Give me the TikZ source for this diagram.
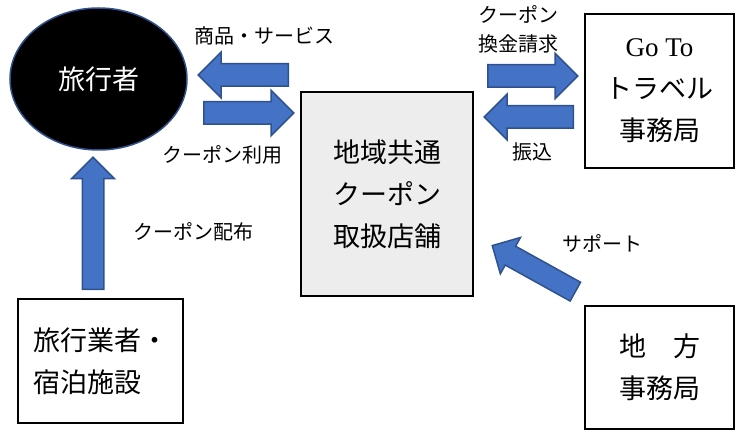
\documentclass[tikz,border=0pt]{standalone}
\usepackage{fontspec}
\setmainfont{Liberation Serif}
\newfontfamily\cjk{Noto Sans CJK JP}
\usetikzlibrary{shapes.geometric,shapes.arrows,positioning}
\definecolor{arrowblue}{HTML}{4472C4}
\definecolor{edgeblue}{HTML}{2F528F}
\definecolor{shopgrey}{HTML}{EDEDED}
\tikzset{
    box/.style={draw, line width=1.2pt, inner sep=0pt, align=center, font=\cjk\fontsize{27}{42}\selectfont},
    fatarrow/.style={single arrow, fill=arrowblue, draw=edgeblue, line width=1.5pt, inner sep=10.5pt, single arrow head extend=11.5pt, anchor=tail},
    tag/.style={font=\cjk\fontsize{20}{29}\selectfont, align=center, inner sep=0pt}
}
\begin{document}
\begin{tikzpicture}[x=1pt, y=-1pt]
    \useasboundingbox (0,0) rectangle (735,430);
    % actors
    \node[ellipse, fill=black, draw=edgeblue, line width=1.5pt, minimum width=177pt, minimum height=142pt, inner sep=0pt, text=white, font=\cjk\fontsize{27}{42}\selectfont] (traveler) at (98.5,79) {旅行者};
    \node[box, fill=shopgrey, minimum width=172pt, minimum height=204pt] (shop) at (387,194) {地域共通\\クーポン\\取扱店舗};
    \node[box, minimum width=149pt, minimum height=154pt] (goto) at (659.5,91) {{\rmfamily Go To}\\トラベル\\事務局};
    \node[box, align=left, minimum width=165pt, minimum height=124pt] (agency) at (100.5,361) {旅行業者・\\宿泊施設};
    \node[box, minimum width=149pt, minimum height=123pt] (local) at (659.5,367.5) {地　方\\事務局};

    % block arrows, placed by their tails
    \node[fatarrow, minimum height=90pt, shape border rotate=180] (goods) at (289,75) {};
    \node[fatarrow, minimum height=90pt] (use) at (203,113) {};
    \node[fatarrow, minimum height=90pt] (claim) at (487,76) {};
    \node[fatarrow, minimum height=89pt, shape border rotate=180] (pay) at (574,117) {};
    \node[fatarrow, minimum height=132pt, inner sep=10pt, single arrow head extend=10.5pt, shape border rotate=90] (hand) at (93,290) {};
    \node[fatarrow, minimum height=95pt, inner sep=10pt, single arrow head extend=10pt, rotate=151] (support) at (576,292) {};

    % labels
    \node[tag] (goodstag) at (264,36) {商品・サービス};
    \node[tag] (usetag) at (222,155) {クーポン利用};
    \node[tag] (claimtag) at (518,29.5) {クーポン\\換金請求};
    \node[tag] (paytag) at (532,152) {振込};
    \node[tag] (handtag) at (193,232) {クーポン配布};
    \node[tag] (supporttag) at (602,243) {サポート};
\end{tikzpicture}
\end{document}
